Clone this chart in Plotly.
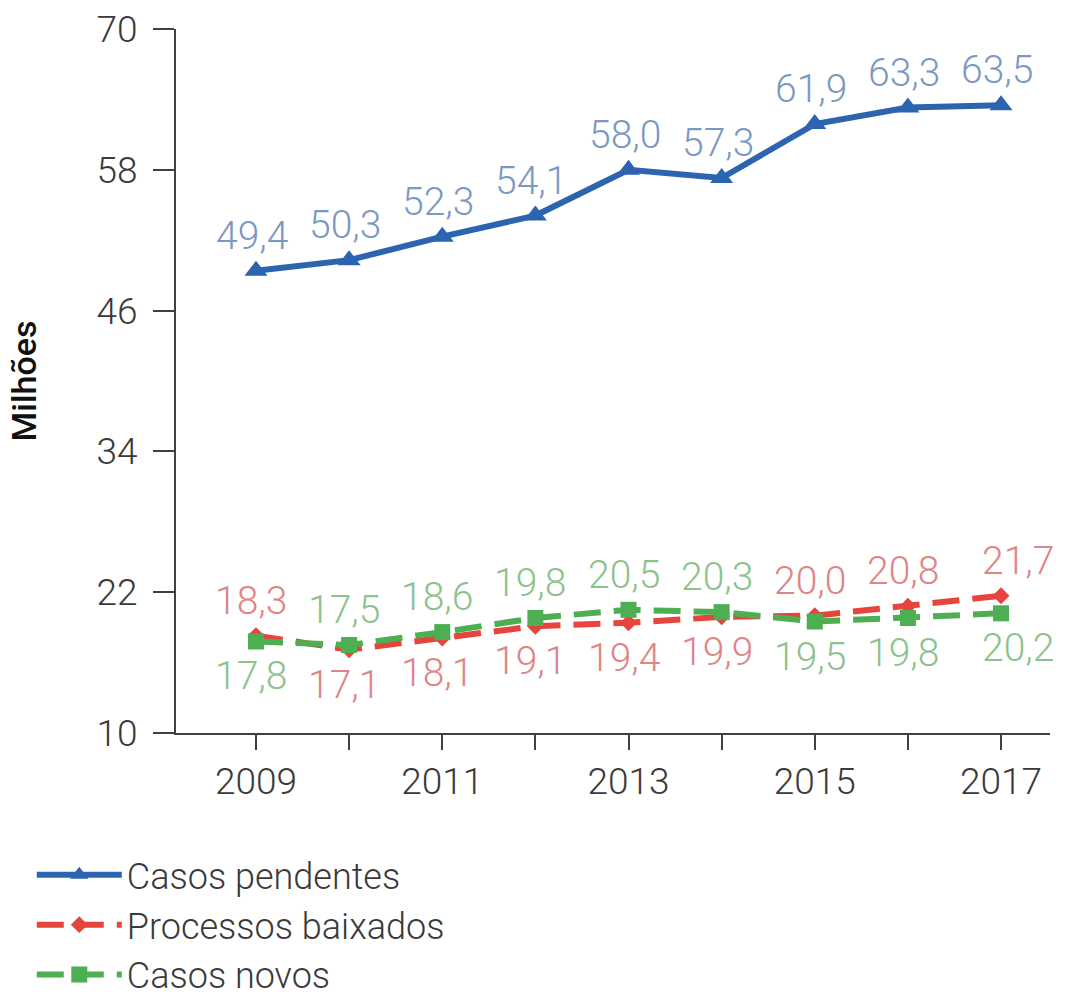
import plotly.graph_objects as go

# Annual series, in millions of cases
years = [2009, 2010, 2011, 2012, 2013, 2014, 2015, 2016, 2017]
pendentes = [49.4, 50.3, 52.3, 54.1, 58.0, 57.3, 61.9, 63.3, 63.5]
baixados = [18.3, 17.1, 18.1, 19.1, 19.4, 19.9, 20.0, 20.8, 21.7]
novos = [17.8, 17.5, 18.6, 19.8, 20.5, 20.3, 19.5, 19.8, 20.2]

y_ticks = [10, 22, 34, 46, 58, 70]
x_ticks = years
x_ticktext = [str(y) if (y - 2009) % 2 == 0 else "" for y in years]

FONT = "Roboto"
BLUE, RED, GREEN = "#2d64b0", "#e6443d", "#4eae52"
BLUE_TXT, RED_TXT, GREEN_TXT = "#7b98c2", "#de8585", "#8dc28d"
AXIS = "#404040"


def fmt(v):
    return f"{v:.1f}".replace(".", ",")


fig = go.Figure()
fig.add_trace(go.Scatter(
    x=years, y=pendentes, name="Casos pendentes", mode="lines+markers",
    line=dict(color=BLUE, width=6),
    marker=dict(symbol="triangle-up", size=20, color=BLUE),
))
fig.add_trace(go.Scatter(
    x=years, y=baixados, name="Processos baixados", mode="lines+markers",
    line=dict(color=RED, width=6, dash="27px,13px"),
    marker=dict(symbol="diamond", size=13, color=RED),
))
fig.add_trace(go.Scatter(
    x=years, y=novos, name="Casos novos", mode="lines+markers",
    line=dict(color=GREEN, width=6, dash="27px,13px"),
    marker=dict(symbol="square", size=16, color=GREEN),
))

annotations = []
LABEL_FONT = 39
OFF = 35
for i, (x, v) in enumerate(zip(years, pendentes)):
    annotations.append(dict(x=x, y=v, text=fmt(v), showarrow=False,
                            xshift=-4, yshift=OFF,
                            font=dict(family=FONT, size=LABEL_FONT, color=BLUE_TXT, weight=300)))
last = len(years) - 1
for i, x in enumerate(years):
    b, n = baixados[i], novos[i]
    xs = 17 if i == last else -5
    b_up = b >= n
    annotations.append(dict(x=x, y=b, text=fmt(b), showarrow=False,
                            xshift=xs, yshift=OFF if b_up else -OFF,
                            font=dict(family=FONT, size=LABEL_FONT, color=RED_TXT, weight=300)))
    annotations.append(dict(x=x, y=n, text=fmt(n), showarrow=False,
                            xshift=xs, yshift=-OFF if b_up else OFF,
                            font=dict(family=FONT, size=LABEL_FONT, color=GREEN_TXT, weight=300)))

fig.update_layout(
    width=1081, height=996,
    margin=dict(l=176, r=31, t=29, b=263, autoexpand=False),
    paper_bgcolor="white", plot_bgcolor="white",
    font=dict(family=FONT, color="#3a3a3a", weight=300),
    showlegend=True,
    legend=dict(
        x=-0.165, y=-0.159, xanchor="left", yanchor="top",
        itemwidth=85,
        font=dict(family=FONT, size=36, color="#3a3a3a", weight=300),
        bgcolor="rgba(0,0,0,0)", traceorder="normal",
    ),
    annotations=annotations,
    shapes=[dict(type="line", xref="paper", yref="paper",
                 x0=-0.026, x1=0, y0=0, y1=0,
                 line=dict(color=AXIS, width=2))],
)

fig.update_xaxes(
    range=[2008.141, 2017.526],
    tickmode="array", tickvals=x_ticks, ticktext=x_ticktext,
    ticks="outside", ticklen=15, tickwidth=2, tickcolor=AXIS,
    showline=True, linecolor=AXIS, linewidth=2,
    showgrid=False, zeroline=False,
    tickfont=dict(family=FONT, size=37, color="#3a3a3a", weight=300),
)
fig.update_yaxes(
    range=[10, 70],
    tickmode="array", tickvals=y_ticks,
    ticks="outside", ticklen=21, tickwidth=2, tickcolor=AXIS,
    showline=True, linecolor=AXIS, linewidth=2,
    showgrid=False, zeroline=False,
    ticklabelstandoff=8,
    tickfont=dict(family=FONT, size=37, color="#3a3a3a", weight=300),
    title=dict(text="Milhões", standoff=50,
               font=dict(family=FONT, size=34, color="#111111", weight=500)),
)

fig.write_html("out.html")
